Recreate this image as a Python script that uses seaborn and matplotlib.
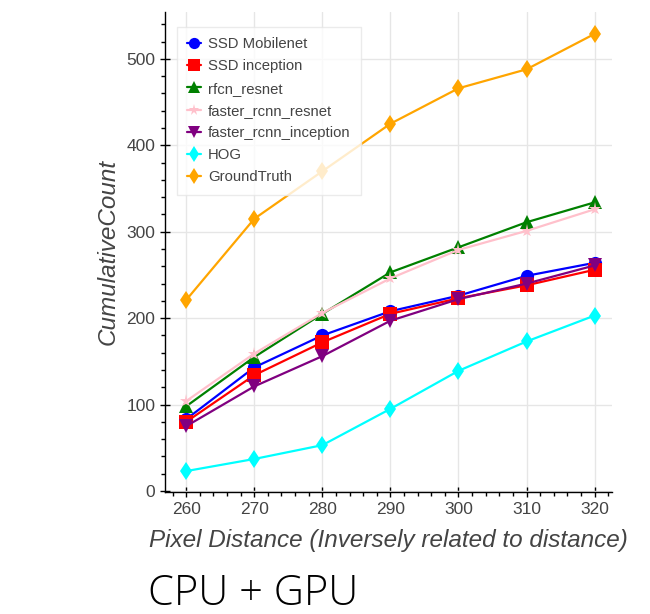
import numpy as np
import pandas as pd
import matplotlib
matplotlib.use("Agg")
import matplotlib.pyplot as plt
from matplotlib.ticker import MultipleLocator
import seaborn as sns

### values
pixel_dist = [260, 270, 280, 290, 300, 310, 320]

ssd_mobilenet = [83, 143, 180, 208, 226, 249, 264]
ssd_inception = [80, 134, 172, 205, 223, 238, 256]
rfcn_resnet = [98, 155, 205, 253, 282, 311, 334]
faster_rcnn_resnet = [104, 159, 206, 246, 279, 301, 326]
faster_rcnn_inception = [75, 121, 156, 197, 222, 240, 261]
hog = [23, 37, 53, 95, 139, 173, 203]
ground_truth = [221, 315, 370, 425, 466, 488, 529]

names = ['SSD Mobilenet', 'SSD inception', 'rfcn_resnet', 'faster_rcnn_resnet',
         'faster_rcnn_inception', 'HOG', 'GroundTruth']
series = [ssd_mobilenet, ssd_inception, rfcn_resnet, faster_rcnn_resnet,
          faster_rcnn_inception, hog, ground_truth]
colors = ['blue', 'red', 'green', 'pink', 'purple', 'cyan', 'orange']
marks = ['o', 's', '^', '*', 'v', 'd', 'd']

df = pd.concat([pd.DataFrame({'dist': pixel_dist, 'count': vals, 'model': name})
                for name, vals in zip(names, series)], ignore_index=True)

sns.set_style('white')
plt.rcParams['font.family'] = ['Liberation Sans', 'DejaVu Sans']

fig = plt.figure(figsize=(6.5, 6.14), dpi=100)
ax = fig.add_axes([0.254, 0.199, 0.688, 0.781])

sns.lineplot(data=df, x='dist', y='count', hue='model', style='model',
             hue_order=names, style_order=names,
             palette=dict(zip(names, colors)), markers=dict(zip(names, marks)),
             dashes=False, markersize=9.5, linewidth=1.6, markeredgewidth=0,
             ax=ax)

ax.set_xlim(256.9, 322.6)
ax.set_ylim(-1, 554)
ax.xaxis.set_major_locator(MultipleLocator(10))
ax.xaxis.set_minor_locator(MultipleLocator(2))
ax.yaxis.set_major_locator(MultipleLocator(100))
ax.yaxis.set_minor_locator(MultipleLocator(20))
ax.grid(True, which='major', color='#e6e6e6', linewidth=1)
ax.set_axisbelow(True)

for s in ['top', 'right']:
    ax.spines[s].set_visible(False)
for s in ['left', 'bottom']:
    ax.spines[s].set_color('black')
    ax.spines[s].set_linewidth(1)

ax.tick_params(which='major', direction='inout', length=7, width=1, color='black',
               labelsize=12.5, labelcolor='#444444', left=True, bottom=True)
ax.tick_params(which='minor', direction='out', length=3, width=1, color='black',
               left=True, bottom=True)

ax.set_xlabel('Pixel Distance (Inversely related to distance)', fontsize=17.5,
              style='italic', color='#444444', labelpad=9)
ax.set_ylabel('CumulativeCount', fontsize=17.5, style='italic', color='#444444',
              labelpad=5)

leg = ax.legend(loc='upper left', bbox_to_anchor=(0.01, 0.985), fontsize=10.7,
                frameon=True, fancybox=False, edgecolor='#e6e6e6',
                handlelength=0.9, handletextpad=0.5, borderpad=0.7,
                labelspacing=0.55, markerscale=0.85)
for t in leg.get_texts():
    t.set_color('#444444')

fig.text(0.228, 0.015, 'CPU + GPU', fontsize=30, family=['Open Sans', 'DejaVu Sans'],
         weight='light', color='black')

fig.savefig('out.png', dpi=100)
